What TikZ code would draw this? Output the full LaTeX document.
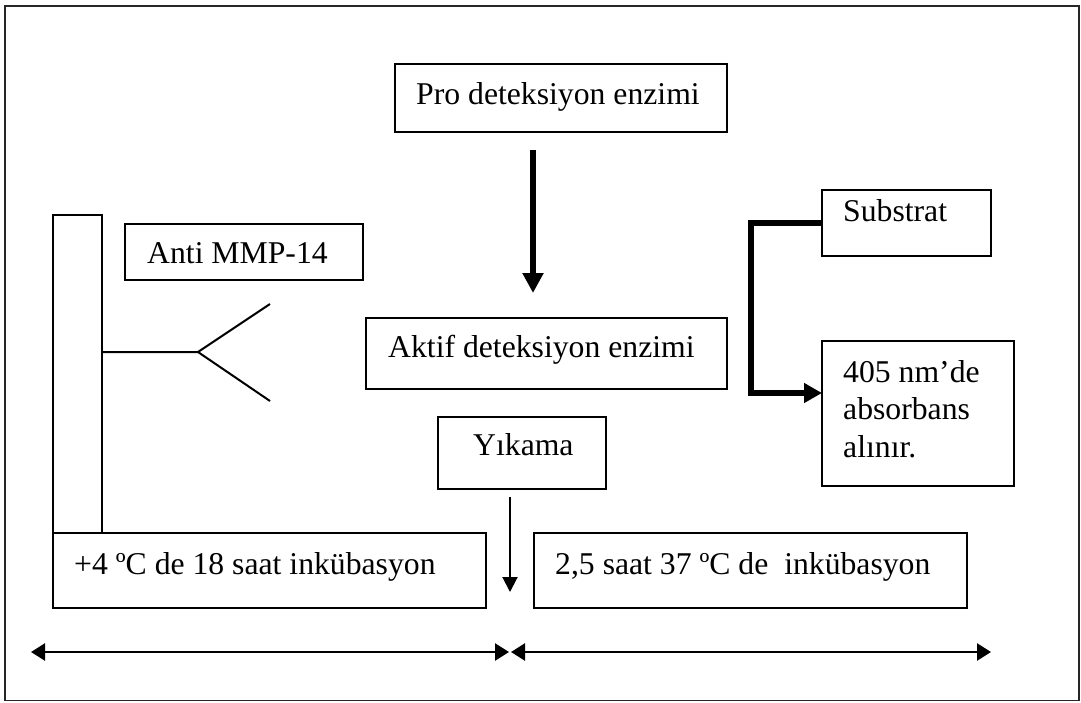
\documentclass[tikz,border=0pt]{standalone}
\usepackage{fontspec}
\setmainfont{Liberation Serif}
\usetikzlibrary{arrows.meta}

\begin{document}
\begin{tikzpicture}[x=1pt,y=-1pt,
  box/.style={draw,line width=2pt,inner sep=0pt,outer sep=0pt,anchor=north west},
  txt/.style={anchor=base west,inner sep=0pt,font=\fontsize{31.7}{37.5}\selectfont},
  bigarrow/.style={line width=6pt,-{Triangle[length=20pt,width=20pt]}},
  bracket/.style={line width=6.5pt,line join=miter,-{Triangle[length=18pt,width=19pt]}},
  thinarrow/.style={line width=2pt,-{Triangle[length=15pt,width=15pt]}},
  span/.style={line width=2.5pt,{Triangle[length=14pt,width=17pt]}-{Triangle[length=14pt,width=17pt]}},
  thin/.style={line width=2pt}]
\useasboundingbox (0,0) rectangle (1081,702);
% outer frame
\draw[line width=1.5pt,black!85] (5,6) rectangle (1079,700.5);

% boxes
\node[box,minimum width=332pt,minimum height=68pt]  (pro)      at (395,64)  {};
\node[box,minimum width=361pt,minimum height=71pt]  (aktif)    at (366,318) {};
\node[box,minimum width=238pt,minimum height=56pt]  (anti)     at (125,224) {};
\node[box,minimum width=168pt,minimum height=72pt]  (yikama)   at (438,417) {};
\node[box,minimum width=169pt,minimum height=66pt]  (substrat) at (822,190) {};
\node[box,minimum width=192pt,minimum height=145pt] (absorb)   at (822,341) {};
\node[box,minimum width=49pt,minimum height=318pt]  (bar)      at (53,215)  {};
\node[box,minimum width=433pt,minimum height=75pt]  (leftbox)  at (53,533)  {};
\node[box,minimum width=433pt,minimum height=75pt]  (rightbox) at (534,533) {};

% texts
\node[txt] (protxt)    at (416,104) {Pro deteksiyon enzimi};
\node[txt] (aktiftxt)  at (388,357) {Aktif deteksiyon enzimi};
\node[txt] (antitxt)   at (147,263) {Anti MMP-14};
\node[txt] (yikamatxt) at (473,455) {Yıkama};
\node[txt] (subtxt)    at (843,221) {Substrat};
\node[txt] (abs1)      at (843,382) {405 nm’de};
\node[txt] (abs2)      at (843,419.5) {absorbans};
\node[txt] (abs3)      at (843,457) {alınır.};
\node[txt] (lefttxt)   at (74,574)  {+4 ºC de 18 saat inkübasyon};
\node[txt] (righttxt)  at (555,574) {2,5 saat 37 ºC de~ inkübasyon};

% antibody fork on the plate wall
\coordinate (fork) at (198,352);
\coordinate (armup) at (270,304);
\coordinate (armdown) at (270,401);
\draw[thin] (bar.east |- fork) -- (fork) -- (armup);
\draw[thin] (fork) -- (armdown);

% activation arrow
\coordinate (xa) at (533,0);
\draw[bigarrow,shorten <=18pt,shorten >=25pt] (pro.south -| xa) -- (aktif.north -| xa);

% substrate bracket
\coordinate (bend) at (751,393);
\draw[bracket] (substrat.west) -| (bend) -- (bend -| absorb.west);

% wash arrow
\coordinate (xb) at (510,0);
\coordinate (washtip) at (510,592);
\draw[thinarrow,shorten <=8pt] (yikama.south -| xb) -- (washtip);

% time spans
\coordinate (s1) at (31,652);
\coordinate (s2) at (509,652);
\coordinate (s3) at (511,652);
\coordinate (s4) at (991,652);
\draw[span] (s1) -- (s2);
\draw[span] (s3) -- (s4);
\end{tikzpicture}
\end{document}
